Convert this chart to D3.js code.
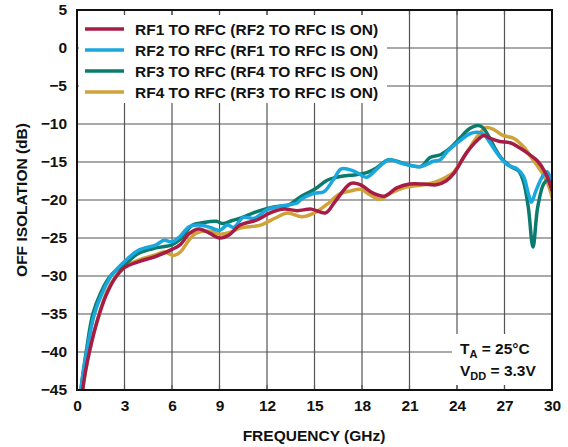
<!DOCTYPE html>
<html>
<head>
<meta charset="utf-8">
<script src="https://cdn.jsdelivr.net/npm/d3@7"></script>
<style>
  html, body { margin: 0; padding: 0; background: #fff; }
  svg { display: block; font-family: "Liberation Sans", Arial, sans-serif; font-weight: bold; }
</style>
</head>
<body>
<svg id="chart" width="568" height="447"></svg>
<script>
// ---------- data ----------
const xTicks = [0, 3, 6, 9, 12, 15, 18, 21, 24, 27, 30];
const yTicks = [5, 0, -5, -10, -15, -20, -25, -30, -35, -40, -45];

const seriesNames = [
  "RF1 TO RFC (RF2 TO RFC IS ON)",
  "RF2 TO RFC (RF1 TO RFC IS ON)",
  "RF3 TO RFC (RF4 TO RFC IS ON)",
  "RF4 TO RFC (RF3 TO RFC IS ON)"
];
const seriesColors = ["#A71C45", "#1AA7DE", "#0B7B6E", "#D0A23A"];

const rf1Freq = [0.30, 0.36, 0.78, 1.41, 1.95, 2.5, 3.0, 3.9, 5.0, 6.0, 6.5, 7.1, 7.7, 8.4, 9.0, 9.6, 10.3, 11.4, 12.2, 13.1, 13.9, 14.8, 15.7, 16.3, 17.3, 17.9, 18.7, 19.4, 20.2, 21.0, 21.9, 22.7, 23.3, 23.8, 24.6, 25.3, 25.7, 26.1, 26.7, 27.4, 28.0, 28.6, 29.1, 29.6, 30.0];
const rf1Val  = [-47.5, -45, -40, -35, -32.0, -30.0, -28.9, -28.1, -27.4, -26.5, -25.9, -24.4, -23.8, -24.4, -25.0, -24.6, -23.3, -22.6, -21.7, -21.2, -21.4, -21.2, -21.7, -20.2, -17.8, -18.0, -19.1, -19.5, -18.4, -17.9, -17.9, -18.0, -17.5, -16.5, -13.8, -12.1, -11.5, -11.9, -12.3, -12.5, -13.2, -14.05, -14.9, -16.5, -18.7];

const rf2Freq = [0.20, 0.25, 0.61, 1.1, 1.6, 2.15, 2.6, 3.0, 3.9, 5.0, 5.5, 6.0, 6.5, 7.1, 7.7, 8.4, 9.0, 9.5, 9.9, 10.5, 11.2, 12.0, 12.9, 13.9, 14.1, 15.0, 15.6, 16.2, 16.7, 17.5, 18.3, 18.9, 19.7, 20.4, 21.7, 22.5, 22.95, 23.4, 24.2, 24.8, 25.3, 25.7, 26.1, 26.6, 27.2, 27.8, 28.2, 28.5, 28.7, 29.0, 29.4, 29.7, 30.0];
const rf2Val  = [-47.5, -45, -40, -35, -32.2, -30.0, -28.9, -28.1, -26.6, -25.9, -25.3, -25.5, -24.8, -23.5, -23.3, -23.6, -24.0, -23.3, -23.6, -22.3, -22.4, -21.3, -20.8, -20.4, -20.0, -19.1, -18.9, -17.3, -15.9, -16.2, -17.0, -16.0, -14.7, -15.1, -15.6, -14.9, -14.7, -13.6, -12.2, -11.3, -11.1, -11.4, -12.5, -14.05, -15.4, -15.9, -16.9, -19.1, -20.3, -18.7, -16.9, -16.3, -17.8];

const rf3Freq = [0.20, 0.25, 0.58, 1.0, 1.5, 2.0, 2.5, 3.0, 3.9, 5.0, 6.0, 6.5, 7.3, 7.9, 8.8, 9.2, 9.8, 10.3, 11.4, 12.5, 13.3, 14.1, 15.0, 15.8, 16.4, 17.0, 17.5, 18.3, 18.9, 19.7, 20.8, 21.7, 22.3, 22.95, 23.6, 24.2, 24.8, 25.3, 25.6, 26.0, 26.4, 26.8, 27.4, 27.9, 28.2, 28.5, 28.8, 29.1, 29.5, 29.8, 30.0];
const rf3Val  = [-47.5, -45, -40, -35, -32.2, -30.3, -29.2, -28.5, -27.0, -26.3, -25.9, -25.2, -23.3, -23.0, -22.8, -23.1, -22.7, -22.4, -21.5, -20.9, -20.7, -19.6, -18.6, -17.4, -17.0, -16.8, -16.7, -16.4, -15.8, -14.7, -15.3, -15.6, -14.4, -14.05, -13.1, -11.8, -10.6, -10.2, -10.4, -11.6, -13.2, -14.5, -15.6, -16.2, -17.6, -20.9, -26.2, -20.9, -17.8, -17.4, -18.7];

const rf4Freq = [0.30, 0.36, 0.78, 1.4, 1.9, 2.45, 3.0, 3.9, 5.0, 5.5, 6.1, 6.5, 7.1, 7.5, 8.4, 9.0, 9.6, 10.3, 11.6, 12.5, 13.3, 14.2, 15.0, 15.9, 16.5, 17.3, 17.9, 18.5, 19.1, 19.8, 20.8, 21.9, 22.7, 23.3, 23.8, 24.6, 25.3, 25.8, 26.3, 26.9, 27.6, 28.2, 28.8, 29.4, 29.8, 30.0];
const rf4Val  = [-47.5, -45, -40, -35, -32.0, -30.0, -28.8, -27.9, -27.2, -26.8, -27.3, -26.9, -25.2, -24.4, -24.1, -24.5, -24.3, -23.7, -23.3, -22.4, -21.7, -22.2, -21.7, -20.4, -19.3, -18.8, -18.6, -19.3, -19.9, -19.1, -18.3, -18.0, -17.6, -17.0, -16.3, -13.8, -11.6, -10.5, -10.7, -11.5, -11.9, -13.0, -14.7, -16.5, -18.2, -19.6];

const seriesFreqs = [rf1Freq, rf2Freq, rf3Freq, rf4Freq];
const seriesVals = [rf1Val, rf2Val, rf3Val, rf4Val];

// ---------- layout ----------
const pL = 77, pR = 552, pT = 10, pB = 390;
const FS = 15.5;
const svg = d3.select("#chart");
const x = d3.scaleLinear().domain([0, 30]).range([pL, pR]);
const y = d3.scaleLinear().domain([-45, 5]).range([pB, pT]);

// grid
const grid = svg.append("g");
grid.selectAll("line.v").data(xTicks.slice(1, -1)).join("line")
  .attr("x1", d => x(d)).attr("x2", d => x(d)).attr("y1", pT).attr("y2", pB)
  .attr("stroke", "#555").attr("stroke-width", 1.2);
grid.selectAll("line.h").data(yTicks.slice(1, -1)).join("line")
  .attr("x1", pL).attr("x2", pR).attr("y1", d => y(d)).attr("y2", d => y(d))
  .attr("stroke", "#555").attr("stroke-width", 1.2);

// white boxes (legend + annotation)
svg.append("rect").attr("x", 79).attr("y", 15).attr("width", 308).attr("height", 88).attr("fill", "#fff");
svg.append("rect").attr("x", 452).attr("y", 334).attr("width", 99).attr("height", 51).attr("fill", "#fff");

// inner tick marks top & bottom
const tk = svg.append("g");
tk.selectAll("line.t").data(xTicks.slice(1, -1)).join("line")
  .attr("x1", d => x(d)).attr("x2", d => x(d)).attr("y1", pT).attr("y2", pT + 5)
  .attr("stroke", "#555").attr("stroke-width", 1.2);
tk.selectAll("line.b").data(xTicks.slice(1, -1)).join("line")
  .attr("x1", d => x(d)).attr("x2", d => x(d)).attr("y1", pB - 5).attr("y2", pB)
  .attr("stroke", "#555").attr("stroke-width", 1.2);

// curves
svg.append("clipPath").attr("id", "clip").append("rect")
  .attr("x", pL).attr("y", pT).attr("width", pR - pL).attr("height", pB - pT);
const line = d3.line().x(d => x(d[0])).y(d => y(d[1])).curve(d3.curveCatmullRom.alpha(0.5));
const plot = svg.append("g").attr("clip-path", "url(#clip)");
[3, 2, 1, 0].forEach(i => {
  const pts = seriesFreqs[i].map((f, k) => [f, seriesVals[i][k]]);
  plot.append("path").attr("d", line(pts)).attr("fill", "none")
    .attr("stroke", seriesColors[i]).attr("stroke-width", 3.5)
    .attr("stroke-linejoin", "round").attr("stroke-linecap", "round");
});

// border
svg.append("rect").attr("x", pL).attr("y", pT).attr("width", pR - pL).attr("height", pB - pT)
  .attr("fill", "none").attr("stroke", "#111").attr("stroke-width", 2);

// axes labels via d3 axes (no lines)
const xAxis = svg.append("g").attr("transform", `translate(0,${pB})`)
  .call(d3.axisBottom(x).tickValues(xTicks).tickSize(0).tickPadding(10));
const yAxis = svg.append("g").attr("transform", `translate(${pL},0)`)
  .call(d3.axisLeft(y).tickValues(yTicks).tickSize(0).tickPadding(10)
    .tickFormat(d => d < 0 ? "\u2212" + Math.abs(d) : String(d)));
[xAxis, yAxis].forEach(a => {
  a.select(".domain").remove();
  a.selectAll("text").attr("font-family", "'Liberation Sans', Arial, sans-serif")
    .attr("font-weight", "bold").attr("font-size", FS).attr("fill", "#111");
});

// axis titles
svg.append("text").attr("x", 314).attr("y", 441).attr("text-anchor", "middle")
  .attr("font-size", FS).attr("fill", "#111").text("FREQUENCY (GHz)");
svg.append("text").attr("transform", "translate(27,200) rotate(-90)").attr("text-anchor", "middle")
  .attr("font-size", FS).attr("fill", "#111").text("OFF ISOLATION (dB)");

// legend
const legRows = [29, 50, 71, 92];
const leg = svg.append("g");
seriesNames.forEach((name, i) => {
  leg.append("line").attr("x1", 85).attr("x2", 124).attr("y1", legRows[i]).attr("y2", legRows[i])
    .attr("stroke", seriesColors[i]).attr("stroke-width", 3.5);
  leg.append("text").attr("x", 135).attr("y", legRows[i] + 5.5).attr("font-size", FS)
    .attr("fill", "#111").text(name);
});

// annotation
const ann = svg.append("g").attr("font-size", FS).attr("fill", "#111");
const t1 = ann.append("text").attr("x", 460).attr("y", 354);
t1.append("tspan").text("T");
t1.append("tspan").attr("font-size", 11).attr("dy", 4).text("A");
t1.append("tspan").attr("dy", -4).text(" = 25°C");
const t2 = ann.append("text").attr("x", 460).attr("y", 376);
t2.append("tspan").text("V");
t2.append("tspan").attr("font-size", 11).attr("dy", 4).text("DD");
t2.append("tspan").attr("dy", -4).text(" = 3.3V");
</script>
</body>
</html>
